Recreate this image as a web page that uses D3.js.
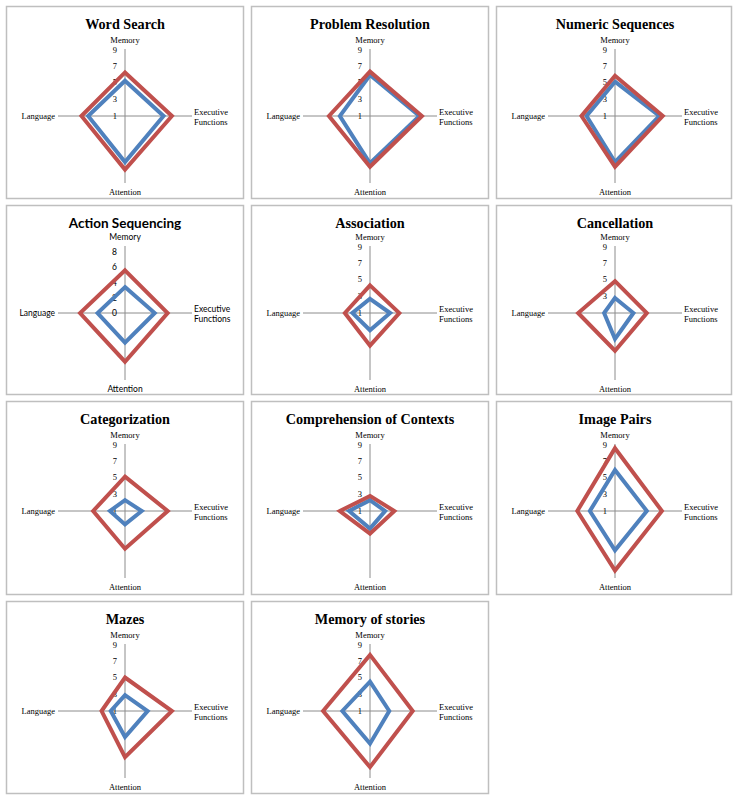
<!DOCTYPE html>
<html><head><meta charset="utf-8">
<script src="https://cdn.jsdelivr.net/npm/d3@7"></script>
<style>body{margin:0;background:#fff}</style>
</head><body>
<svg id="c" width="742" height="800"></svg>
<script>
const titles = ["Word Search","Problem Resolution","Numeric Sequences","Action Sequencing","Association","Cancellation","Categorization","Comprehension of Contexts","Image Pairs","Mazes","Memory of stories"];
const axes = ["Memory","Executive Functions","Attention","Language"];
// series values per panel: [Memory, Executive Functions, Attention, Language]
const blueSeries = [
  [5.2,5.6,6.5,5.4],[5.9,6.9,6.65,4.6],[5.1,6.3,6.5,4.4],[3.4,3.9,3.9,3.6],
  [2.7,3.4,3.05,3.1],[2.8,3.2,4.1,2.3],[2.3,3.0,2.6,2.8],[2.3,2.8,3.1,3.5],
  [5.9,4.8,5.7,4.0],[2.9,3.7,4.1,2.7],[4.5,3.3,4.9,4.3]
];
const redSeries = [
  [6.2,6.6,7.4,6.2],[6.3,7.2,7.05,5.9],[5.8,6.7,7.05,5.0],[5.6,5.6,6.4,5.9],
  [4.3,4.5,4.9,4.0],[4.8,4.8,5.5,5.4],[5.1,6.1,5.5,4.8],[2.8,3.9,3.7,4.6],
  [8.5,6.6,8.1,5.5],[5.0,6.6,6.5,3.8],[7.7,6.1,7.7,6.6]
];
const tickLabelsDefault = [1,3,5,7,9];
const tickLabelsAction = [0,2,4,6,8];
const scaleMin = [1,1,1,0,1,1,1,1,1,1,1];
const scaleMax = [9,9,9,8.8,9,9,9,9,9,9,9];

const colX = [6,251,496], colW = [238,238,236];
const rowY = [6,205,401,601], rowH = [193,190,194,193];
const R = 67;
const svg = d3.select("#c");
const serif = "'Liberation Serif','Times New Roman',serif";
const sans = "Lato,'Open Sans',sans-serif";

titles.forEach((t,i)=>{
  const col = i%3, row = Math.floor(i/3);
  const x0 = colX[col], y0 = rowY[row];
  const g = svg.append("g").attr("transform",`translate(${x0},${y0})`);
  g.append("rect").attr("x",0.5).attr("y",0.5).attr("width",colW[col]-1).attr("height",rowH[row]-1)
    .attr("fill","#fff").attr("stroke","#bfbfbf").attr("stroke-width",1.5);
  const isAction = i===3;
  const font = isAction ? sans : serif;
  const cx = 119, cy = row===1 ? 108 : 110;
  g.append("text").attr("x",cx).attr("y",23).attr("text-anchor","middle")
    .attr("font-family",font).attr("font-weight","bold").attr("font-size",isAction?13.5:14.2)
    .attr("fill","#000").text(t);
  const r = d3.scaleLinear().domain([scaleMin[i],scaleMax[i]]).range([0,R]);
  const c = g.append("g").attr("transform",`translate(${cx},${cy})`);
  const angle = d3.scaleOrdinal().domain(axes).range([-Math.PI/2,0,Math.PI/2,Math.PI]);
  axes.forEach(a=>{
    const an = angle(a);
    c.append("line").attr("x1",0).attr("y1",0).attr("x2",R*Math.cos(an)).attr("y2",R*Math.sin(an))
      .attr("stroke","#8c8c8c").attr("stroke-width",1);
  });
  const fs = 8.5;
  c.append("text").attr("x",0).attr("y",-R-6).attr("text-anchor","middle")
    .attr("font-family",font).attr("font-size",fs).attr("fill","#000").text("Memory");
  c.append("text").attr("x",0).attr("y",R+12).attr("text-anchor","middle")
    .attr("font-family",font).attr("font-size",fs).attr("fill","#000").text("Attention");
  c.append("text").attr("x",-R-3).attr("y",3).attr("text-anchor","end")
    .attr("font-family",font).attr("font-size",fs).attr("fill","#000").text("Language");
  const ex = c.append("text").attr("x",R+2).attr("y",-1).attr("text-anchor","start")
    .attr("font-family",font).attr("font-size",fs).attr("fill","#000");
  ex.append("tspan").attr("x",R+2).attr("dy",0).text("Executive");
  ex.append("tspan").attr("x",R+2).attr("dy",9.5).text("Functions");
  const ticks = isAction ? tickLabelsAction : tickLabelsDefault;
  ticks.forEach(v=>{
    c.append("text").attr("x",-8).attr("y",-r(v)+ (v===ticks[ticks.length-1] && !isAction ? 1 : 0)).attr("dy","0.35em").attr("text-anchor","end")
      .attr("font-family",font).attr("font-size",fs).attr("fill","#000").text(v);
  });
  const line = d3.lineRadial().angle((d,k)=>[0,Math.PI/2,Math.PI,Math.PI*1.5][k]).radius(d=>r(d)).curve(d3.curveLinearClosed);
  [[blueSeries[i],"#4F81BD"],[redSeries[i],"#C0504D"]].forEach(([vals,col])=>{
    c.append("path").attr("d",line(vals)).attr("fill","none").attr("stroke",col)
      .attr("stroke-width",4).attr("stroke-linejoin","miter");
  });
});
</script>
</body></html>
